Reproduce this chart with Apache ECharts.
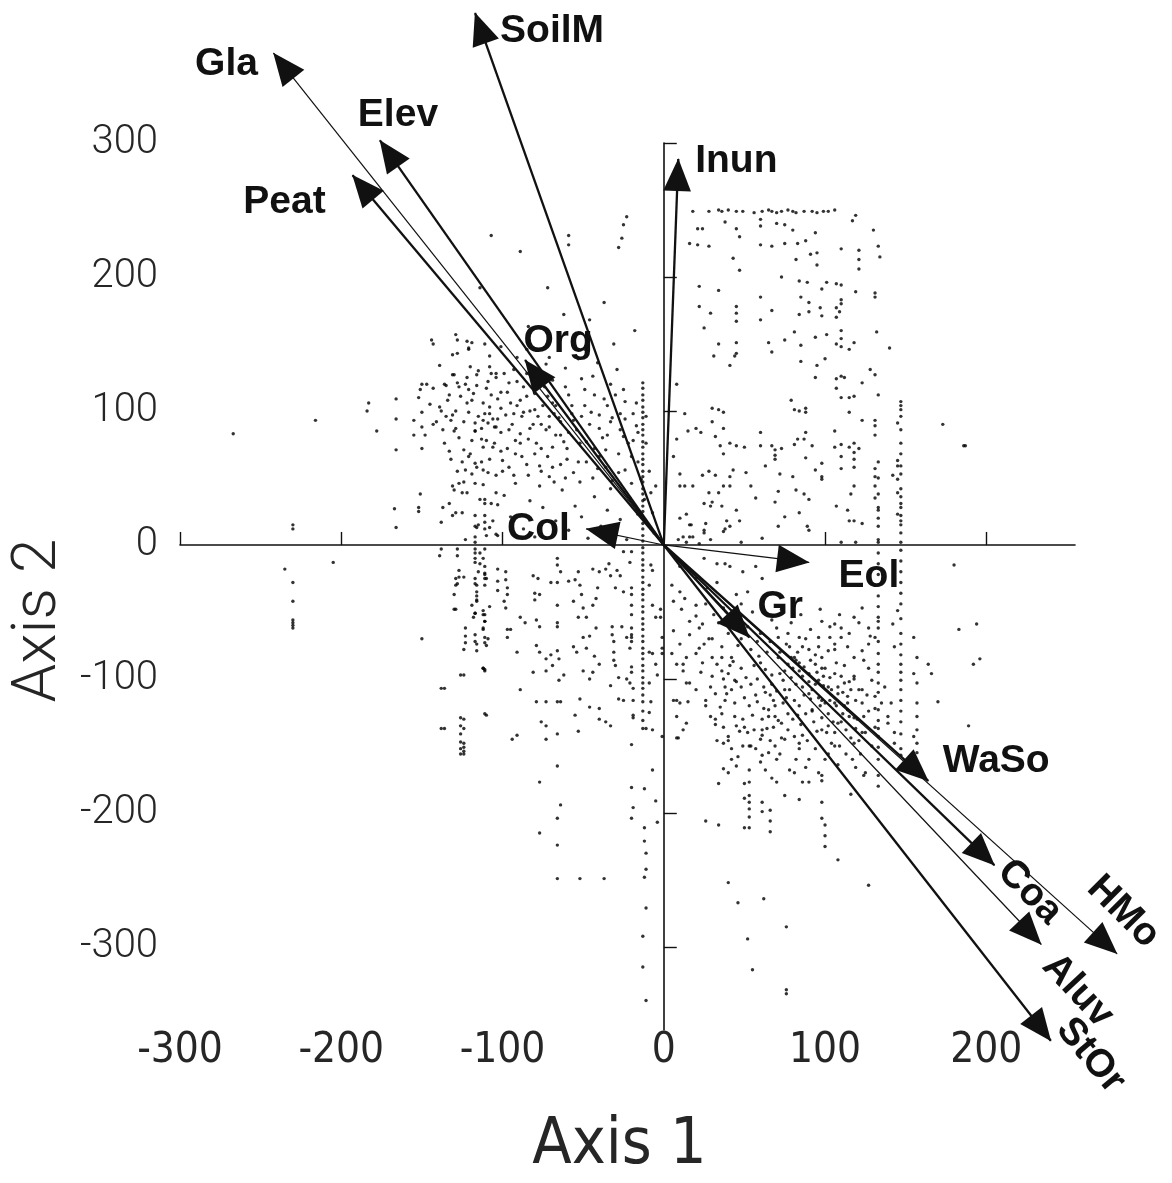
<!DOCTYPE html>
<html>
<head>
<meta charset="utf-8">
<script src="https://cdn.jsdelivr.net/npm/echarts@6/dist/echarts.min.js"></script>
<style>
  html, body { margin: 0; padding: 0; background: #fff; }
  #chart { width: 1172px; height: 1183px; }
</style>
</head>
<body>
<div id="chart"></div>
<script>
// environmental vectors (arrow tips, ordination units)
const variables = ['Gla', 'SoilM', 'Elev', 'Peat', 'Inun', 'Org', 'Col', 'Eol', 'Gr', 'WaSo', 'Coa', 'HMo', 'Aluv', 'StOr']
const axis1 = [-242, -117, -176, -193, 9, -86, -48, 90, 53, 164, 205, 281, 234, 240]
const axis2 = [367, 397, 302, 276, 288, 138, 12, -13, -69, -176, -239, -305, -298, -370]
const heavy = ['SoilM', 'Elev', 'Peat', 'Inun', 'Org', 'Gr', 'WaSo', 'Coa', 'StOr']

// tick labels
const xTicks = [-300, -200, -100, 0, 100, 200]
const yTicks = [-300, -200, -100, 0, 100, 200, 300]

// site scores
const sites = [
  // upper-left cluster
  [-143,117],[-139,103],[-135,96],[-131,127],[-129,87],[-126,111],[-124,71],[-121,99],[-120,133],[-117,85],[-116,119],[-113,62],
  [-112,106],[-109,91],[-108,141],[-105,76],[-104,125],[-101,102],[-100,55],[-97,114],[-96,86],[-93,131],[-92,68],[-89,108],
  [-88,96],[-85,146],[-84,79],[-81,121],[-80,101],[-77,59],[-76,90],[-73,135],[-72,111],[-69,73],[-68,98],[-65,151],
  [-64,82],[-61,118],[-60,64],[-57,104],[-56,93],[-53,139],[-52,47],[-49,116],[-48,77],[-45,99],[-44,126],[-41,57],
  [-40,87],[-37,109],[-36,71],[-33,42],[-32,95],[-29,131],[-28,54],[-25,81],[-24,107],[-21,35],[-20,66],[-17,89],
  [-16,23],[-14,49],[-11,76],[-10,16],[-8,39],[-6,9],
  [-130,41],[-125,24],[-119,53],[-115,15],[-112,45],[-107,31],[-104,8],[-99,37],[-95,21],[-92,46],[-87,12],[-83,33],
  [-80,6],[-75,28],[-71,51],[-67,18],[-63,41],[-59,11],[-55,29],[-51,21],[-47,5],[-43,36],[-39,14],[-35,26],[-31,8],
  [-27,19],[-23,4],
  [-121,116],[-117,91],[-113,79],[-109,122],[-105,88],[-101,114],[-97,72],[-93,98],[-89,83],[-85,111],[-81,90],[-77,118],
  [-73,86],[-69,106],[-65,95],[-119,108],[-111,98],[-103,94],[-95,106],[-87,118],[-79,76],[-71,96],[-127,80],[-133,112],
  [-137,86],[-129,100],[-123,120],[-115,130],[-107,112],[-99,128],[-91,122],[-83,100],[-75,104],[-67,82],[-59,84],[-51,96],
  [-43,72],[-35,82],[-27,98],[-19,78],[-53,62],[-61,50],[-69,58],[-77,44],[-85,60],[-93,52],[-101,70],[-109,54],
  [-117,46],[-125,62],[-133,70],[-141,92],[-145,105],[-148,82],[-150,120],[-139,134],[-131,142],[-121,146],[-111,150],[-101,148],
  [-91,140],[-81,146],[-71,140],[-61,132],[-49,146],[-41,136],[-33,120],[-25,116],[-17,106],[-11,96],
  [-134,108],[-131,97],[-127,118],[-124,92],[-122,106],[-119,78],[-118,113],[-115,96],[-113,87],[-110,117],[-108,103],[-106,94],
  [-103,109],[-101,84],[-98,97],[-96,121],[-94,90],[-91,104],[-89,76],[-87,99],[-85,128],[-83,87],[-80,113],[-78,96],
  [-76,72],[-74,118],[-71,88],[-69,123],[-67,104],[-64,92],[-62,77],[-59,112],[-57,98],[-54,86],[-51,124],[-49,104],
  [-46,90],[-43,112],[-40,97],[-38,80],[-35,104],[-33,92],[-30,112],[-27,86],[-24,94],[-22,76],[-19,98],[-16,84],
  [-136,76],[-132,64],[-128,55],[-124,47],[-120,68],[-116,58],[-112,73],[-108,64],[-104,52],[-100,63],[-96,58],[-92,78],
  [-88,66],[-84,52],[-80,68],[-76,55],[-72,66],[-68,47],[-64,60],[-60,72],[-56,54],[-52,76],[-48,62],[-44,50],
  [-40,66],[-36,58],[-32,48],[-28,68],[-24,56],[-20,46],[-16,62],[-12,34],[-9,55],[-7,24],[-5,44],
  [-143,150],[-128,153],[-122,152],[-119,151],[-128,143],[-121,147],[-151,116],[-152,110],[-147,120],[-150,99],[-155,93],[-155,82],
  [-150,88],[-150,72],[-143,90],[-138,100],[-136,120],[-135,119],[-130,127],[-128,121],[-122,125],[-116,127],[-108,133],[-107,128],
  [-104,128],[-132,93],[-130,85],[-117,85],[-112,93],[-108,98],[-104,88],[-110,78],[-106,73],[-121,66],[-117,61],[-112,56],
  [-123,56],[-131,44],[-127,46],[-125,39],[-129,24],[-131,22],[-137,28],[-133,31],[-138,17],[-151,38],[-152,28],[-152,25],
  [-122,39],[-114,34],[-111,34],[-111,31],[-104,39],[-103,30],[-117,22],[-117,14],[-116,13],[-111,22],[-111,17],[-111,12],
  [-110,7],[-106,18],[-123,4],[-117,6],[-117,2],[-108,13],[-103,7],
  [-144,153],[-129,157],[-107,231],[-89,219],[-59,231],[-59,224],[-25,239],[-26,229],[-28,222],[-114,192],[-72,192],[-23,245],
  [-46,168],[-37,181],[-18,160],[-84,163],[-62,172],[-31,150],
  // far left outliers
  [-267,83],[-230,15],[-230,12],[-230,-28],[-230,-42],[-230,-56],[-230,-58],[-230,-60],[-230,-62],[-235,-18],[-205,-13],
  [-216,93],[-184,100],[-183,106],[-178,85],[-166,109],[-166,94],[-166,71],[-167,27],[-166,13],
  // dense column near the second axis
  [-13,121],[-13,117],[-13,112],[-13,108],[-13,103],[-13,99],[-13,95],[-13,90],[-13,86],[-13,82],[-13,77],[-13,73],
  [-13,68],[-13,64],[-13,60],[-13,55],[-13,51],[-13,47],[-13,42],[-13,38],[-13,33],[-13,29],[-13,25],[-13,20],
  [-13,16],[-13,12],[-13,7],[-13,3],[-13,-2],[-13,-6],[-13,-11],[-13,-15],[-13,-19],[-13,-24],[-13,-28],[-13,-33],
  [-13,-37],[-13,-41],[-13,-46],[-13,-50],[-13,-55],[-13,-59],[-13,-63],[-13,-68],[-13,-72],[-13,-77],[-13,-81],[-13,-85],
  [-13,-90],[-13,-94],[-13,-99],[-13,-103],[-13,-107],[-13,-112],[-13,-117],[-13,-124],[-13,-131],[-13,-137],
  // upper-right block
  [18,249],[28,249],[34,250],[36,249],[40,250],[45,249],[49,249],[56,248],[61,249],[65,250],[67,249],[70,248],
  [73,249],[77,250],[80,249],[82,248],[87,249],[92,249],[95,248],[99,249],[102,249],[106,250],[119,246],[117,242],
  [130,235],[133,223],[134,215],
  [21,236],[24,236],[38,241],[45,236],[47,230],[60,243],[60,238],[70,240],[75,239],[80,235],[94,233],[16,225],
  [21,224],[28,223],[60,224],[67,223],[75,225],[83,225],[88,227],[91,217],[95,218],[95,209],[110,221],[121,220],
  [121,213],[121,206],[43,214],[47,205],[73,200],[82,213],[84,197],[89,196],[101,196],[110,194],[107,195],[22,193],
  [34,190],[60,185],[85,185],[90,181],[98,191],[110,183],[110,180],[119,189],[131,188],[131,185],[22,178],[29,173],
  [45,178],[45,173],[45,167],[60,168],[67,175],[84,172],[90,174],[97,177],[98,171],[107,177],[107,170],[109,174],
  [25,162],[34,150],[45,151],[45,143],[44,141],[31,141],[41,134],[65,151],[67,144],[75,153],[81,159],[85,149],
  [85,137],[94,155],[95,134],[101,157],[100,139],[110,160],[110,154],[107,150],[110,148],[115,146],[118,151],[132,159],
  [140,147],[128,131],[131,127],[94,125],[107,124],[110,126],[112,125],[107,117],[123,121],[133,112],[79,108],[81,101],
  [84,100],[88,102],[88,99],[110,110],[115,110],[118,111],[115,99],[123,93],[131,93],[131,89],[131,82],[147,104],
  [147,101],[145,91],[147,76],[30,102],[34,101],[37,99],[30,92],[8,120],[13,98],[15,85],[20,87],[23,84],
  [32,81],[37,87],[35,74],[37,68],[41,76],[45,74],[50,73],[60,84],[60,74],[67,74],[69,71],[69,67],
  [69,64],[73,72],[81,75],[83,79],[87,79],[88,84],[92,74],[88,65],[106,85],[106,73],[110,75],[110,66],
  [110,57],[115,73],[118,76],[118,69],[118,64],[118,58],[121,72],[131,57],[131,51],[145,63],[145,59],[147,59],
  [142,52],[145,49],[147,42],[145,39],[147,31],[145,23],[147,22],[147,15],[147,9],[131,44],[131,35],[133,28],
  [133,20],[133,2],[118,44],[116,38],[114,26],[115,18],[118,18],[123,16],[107,29],[98,61],[98,51],[98,49],
  [94,56],[80,51],[72,53],[82,41],[87,38],[90,34],[84,24],[89,14],[90,11],[71,40],[75,21],[71,14],
  [69,32],[63,59],[54,44],[57,35],[51,54],[47,18],[39,18],[37,10],[41,14],[45,26],[36,29],[37,44],
  [41,44],[43,56],[41,51],[32,52],[34,39],[30,32],[28,39],[28,55],[24,52],[18,44],[13,44],[10,44],
  [10,53],[6,66],[8,79],[25,31],[29,29],[26,16],[16,15],[17,15],[14,23],[10,20],[9,4],[12,6],
  [16,6],[18,6],[25,11],[25,9],[29,4],[38,12],[61,5],[48,2],[119,2],[110,2],[22,1],[14,2],
  [173,90],[187,74],[186,74],
  // lower-left part
  [-139,-8],[-128,-8],[-117,-10],[-117,-13],[-112,-10],[-129,-25],[-129,-30],[-130,-37],[-130,-48],[-116,-30],[-116,-35],[-116,-42],
  [-117,-51],[-118,-54],[-115,-20],[-111,-21],[-110,-25],[-111,-30],[-111,-52],[-111,-57],[-112,-63],[-111,-69],[-123,-68],[-124,-78],
  [-116,-74],[-116,-79],[-110,-75],[-112,-92],[-111,-94],[-98,-20],[-98,-26],[-97,-32],[-97,-37],[-99,-42],[-98,-47],[-103,-34],
  [-97,-63],[-95,-63],[-97,-69],[-89,-54],[-86,-58],[-91,-80],[-89,-108],[-91,-142],[-94,-145],[-79,-75],[-77,-80],[-73,-85],
  [-73,-94],[-81,-95],[-79,-117],[-73,-117],[-76,-132],[-73,-135],[-73,-145],[-66,-117],[-64,-117],[-66,-141],[-65,-101],[-62,-97],
  [-70,-82],[-66,-79],[-65,-85],[-69,-90],[-66,-45],[-66,-58],[-66,-61],[-79,-56],[-77,-61],[-80,-36],[-77,-37],[-80,-41],
  [-81,-23],[-78,-25],[-70,-28],[-66,-28],[-64,-20],[-66,-10],[-66,-15],[-59,-27],[-55,-26],[-53,-20],[-52,-30],[-51,-37],
  [-56,-42],[-50,-47],[-44,-45],[-42,-40],[-41,-32],[-44,-18],[-40,-20],[-36,-18],[-34,-14],[-53,-54],[-48,-54],[-42,-62],
  [-46,-68],[-50,-69],[-56,-76],[-54,-80],[-48,-77],[-43,-83],[-40,-89],[-44,-95],[-50,-94],[-46,-100],[-52,-115],[-46,-121],
  [-40,-122],[-40,-130],[-36,-132],[-33,-135],[-55,-127],[-53,-139],[-32,-61],[-32,-67],[-31,-72],[-31,-80],[-31,-86],[-30,-90],
  [-26,-61],[-23,-69],[-21,-77],[-28,-99],[-23,-100],[-21,-103],[-19,-107],[-28,-115],[-25,-116],[-19,-116],[-19,-127],[-19,-129],
  [-33,-105],[-27,-23],[-30,-32],[-25,-35],[-20,-32],[-20,-37],[-20,-45],[-20,-52],[-25,-5],[-20,-5],[-21,-13],[-33,-23],
  [-29,-19],[-20,-62],[-20,-67],[-20,-69],[-20,-72],[-20,-91],[-20,-95],[-8,-15],[-7,-19],[-9,-30],[-7,-45],[-5,-54],
  [-2,-48],[-2,-54],[-9,-80],[-7,-81],[-5,-89],[-4,-97],[-9,-103],[-8,-117],[-9,-125],[-7,-138],[-11,-137],[-1,-143],
  [-1,-69],[-1,-77],[-1,-81],
  [-138,-3],[-128,-3],[-117,-3],[-117,-6],[-114,-6],[-111,-3],[-114,-14],[-111,-16],[-111,-22],[-111,-25],[-127,-19],[-127,-24],
  [-124,-24],[-128,-29],[-129,-48],[-117,-25],[-117,-29],[-116,-38],[-116,-41],[-119,-45],[-117,-51],[-112,-49],[-112,-52],[-111,-57],
  [-112,-62],[-108,-46],[-123,-62],[-123,-73],[-117,-67],[-117,-72],[-111,-73],[-109,-70],[-112,-92],[-111,-93],[-124,-97],[-136,-107],
  [-110,-127],[-150,-70],[-136,-137],[-124,-130],[-124,-137],[-124,-148],[-124,-151],[-124,-154],[-124,-156],[-103,-18],[-103,-27],
  [-138,-107],[-138,-137],[-126,-97],[-126,-129],[-126,-135],[-126,-141],[-126,-147],[-126,-152],[-126,-156],[-111,-126],
  [-77,-177],[-66,-165],[-64,-194],[-66,-204],[-77,-215],[-66,-224],[-66,-249],[-52,-249],[-37,-249],[-12,-248],[-12,-211],[-12,-221],
  [-20,-204],[-20,-181],[-20,-149],[-7,-168],[-5,-191],[-13,-315],[-13,-292],[-11,-271],[-11,-230],[-11,-242],[-19,-196],[-4,-207],
  [-12,-182],[-11,-340],
  // lower-right cluster
  [25,-10],[33,-14],[38,-14],[41,-16],[49,-20],[57,-16],[61,-25],[52,-35],[45,-37],[33,-28],[27,-32],[20,-25],
  [10,-16],[5,-30],[6,-42],[11,-48],[20,-53],[24,-59],[16,-67],[6,-64],[10,-74],[5,-81],[12,-89],[20,-81],
  [25,-74],[30,-84],[33,-89],[36,-94],[40,-96],[44,-101],[38,-106],[32,-111],[26,-116],[20,-108],[14,-103],[8,-116],
  [15,-117],[9,-144],[29,-128],[32,-130],[37,-136],[45,-135],[50,-136],[40,-143],[37,-148],[42,-152],[49,-150],[53,-150],
  [60,-145],[61,-138],[61,-130],[65,-123],[69,-128],[73,-133],[77,-138],[81,-143],[84,-148],[75,-145],[69,-150],[65,-155],
  [61,-157],[45,-165],[40,-170],[53,-168],[53,-177],[53,-187],[53,-192],[53,-197],[53,-203],[53,-211],[50,-178],[50,-189],
  [50,-211],[61,-192],[61,-199],[67,-174],[70,-177],[75,-187],[81,-170],[86,-177],[90,-177],[98,-172],[98,-176],[98,-192],
  [98,-204],[26,-206],[34,-209],[37,-167],[34,-178],
  [71,-69],[77,-66],[84,-69],[86,-76],[81,-84],[77,-89],[84,-94],[90,-96],[94,-89],[98,-84],[102,-79],[106,-74],
  [110,-69],[114,-76],[118,-84],[123,-79],[127,-74],[131,-69],[133,-81],[96,-69],[98,-57],[103,-69],[106,-59],[110,-62],
  [118,-54],[123,-47],[127,-62],[133,-57],[142,-59],[145,-49],[147,-66],[143,-76],[147,-89],[155,-69],[157,-84],[164,-89],
  [166,-96],[155,-96],[147,-101],[157,-103],[96,-101],[102,-106],[108,-111],[114,-113],[121,-108],[106,-96],[112,-103],[118,-98],
  [129,-101],[131,-113],[123,-118],[114,-123],[106,-118],[98,-116],[90,-111],[86,-106],[92,-123],[98,-129],[102,-135],[108,-133],
  [118,-129],[125,-140],[133,-143],[139,-133],[143,-148],[147,-152],[155,-143],[157,-118],[157,-128],[157,-138],[157,-148],[157,-155],
  [133,-123],[133,-89],
  [22,-62],[28,-70],[34,-58],[40,-66],[46,-75],[52,-61],[58,-72],[64,-80],[70,-62],[76,-74],[82,-86],[88,-70],
  [94,-82],[100,-92],[106,-78],[112,-90],[118,-100],[124,-86],[24,-88],[30,-98],[36,-84],[42,-108],[48,-92],[54,-104],
  [60,-88],[66,-112],[72,-96],[78,-108],[84,-120],[90,-102],[96,-114],[102,-126],[108,-106],[114,-118],[120,-130],[126,-112],
  [26,-120],[32,-134],[38,-116],[44,-128],[50,-114],[56,-138],[62,-122],[68,-136],[74,-118],[80,-130],[86,-142],[92,-124],
  [98,-138],[104,-148],[110,-132],[116,-144],[122,-156],[40,-146],[46,-158],[54,-150],[60,-162],[66,-146],[72,-156],[78,-168],
  [84,-152],[90,-160],[96,-170],[102,-156],[108,-164],[58,-100],[63,-93],[67,-104],[71,-84],[75,-94],[79,-99],[83,-80],
  [87,-91],[91,-115],[95,-95],[99,-105],[103,-99],[107,-120],[111,-110],[115,-128],[119,-116],[123,-140],[127,-124],[131,-136],
  [135,-118],[139,-128],[143,-140],[37,-100],[41,-90],[45,-102],[49,-130],[53,-120],[57,-112],[61,-142],[65,-128],[69,-120],
  [73,-144],[77,-126],[81,-116],[85,-134],[89,-146],[93,-132],[97,-120],[101,-140],[105,-132],[109,-150],[113,-138],[117,-160],
  [121,-146],[125,-170],[129,-150],
  [26,-44],[31,-52],[37,-47],[43,-55],[48,-44],[55,-50],[61,-42],[67,-56],[73,-48],[79,-58],[85,-52],[91,-63],
  [97,-48],[103,-61],[109,-52],[115,-66],[121,-58],[128,-68],[23,-95],[29,-106],[35,-121],[39,-111],[43,-87],[47,-139],
  [51,-99],[55,-127],[59,-83],[63,-110],[67,-97],[71,-131],[75,-108],[79,-84],[83,-127],[87,-112],[91,-86],[95,-139],
  [99,-98],[103,-116],[107,-88],[111,-126],[115,-102],[119,-137],[123,-108],[127,-92],[131,-122],[137,-106],[141,-118],[56,-90],
  [62,-106],[68,-116],[74,-101],[80,-92],[86,-98],[92,-108],[98,-92],[104,-108],[110,-98],[116,-108],[58,-117],[64,-137],
  [70,-109],[76,-114],[82,-104],[88,-126],[94,-104],[100,-118],[106,-140],[112,-120],[118,-148],[124,-128],[44,-118],[48,-106],
  [52,-140],[36,-126],[33,-146],[42,-160],[57,-152],[63,-168],[70,-160],[82,-160],[88,-166],[94,-152],[100,-160],[106,-150],
  [113,-156],[119,-166],[30,-70],[36,-76],[42,-84],[48,-70],[54,-78],[60,-66],[66,-72],[72,-80],[78,-76],[84,-88],
  [90,-78],[96,-76],
  [10,-35],[13,-40],[20,-45],[16,-57],[22,-77],[14,-84],[8,-89],[12,-94],[16,-103],[6,-116],[10,-118],[8,-128],
  [14,-133],[12,-138],[8,-144],
  [133,62],[133,50],[133,38],[133,26],[133,14],[133,4],[133,-6],[133,-14],[133,-22],[133,-30],[133,-38],[133,-46],
  [133,-54],[133,-62],[133,-72],[133,-95],[133,-103],[133,-110],[133,-131],[133,-137],[133,-151],[133,-160],[133,-172],[133,-180],
  [147,107],[147,96],[147,86],[147,68],[147,53],[147,36],[147,28],[147,18],[147,2],[147,-4],[147,-12],[147,-20],
  [147,-28],[147,-36],[147,-44],[147,-55],[147,-74],[147,-82],[147,-95],[147,-108],[147,-116],[147,-124],[147,-132],[147,-141],
  [147,-157],
  [180,-15],[194,-59],[196,-85],[192,-89],[183,-63],[170,-117],[189,-135],
  [76,-285],[52,-294],[55,-317],[76,-332],[76,-335],[127,-254],[108,-235],[100,-209],[100,-217],[100,-225],[40,-252],[46,-267],
  [62,-264],[66,-198],[66,-206],[66,-214],[84,-190],[116,-186],[124,-172]
]

// label placement: pixels from the arrow tip (in the label's own rotated frame), rotation in degrees
const labelOffset = {
  Gla: [-47, 11], SoilM: [77, 18], Elev: [18, -25], Peat: [-68, 27], Inun: [58, 2], Org: [33, -19], Col: [-48, 0],
  Eol: [60, 14], Gr: [31, -30], WaSo: [68, -20], Coa: [44, -6], HMo: [-25, -34], Aluv: [59, 5], StOr: [37, -21]
}
const labelRotate = { Coa: -45, HMo: -45, Aluv: -47, StOr: -50 }

const ink = '#111'
// triangle head whose tip sits on the symbol centre (padded box)
const arrowHead = 'path://M-30,-30L-30,-30M30,30L30,30M0,0L13,31L-13,31Z'

const chart = echarts.init(document.getElementById('chart'))

const vectorData = (isHeavy) =>
  variables
    .map((name, i) => ({ name, coords: [[0, 0], [axis1[i], axis2[i]]] }))
    .filter(d => heavy.includes(d.name) === isHeavy)

const narrow = "'Liberation Sans Narrow', 'DejaVu Sans Condensed', 'Roboto Condensed', 'Arial Narrow', sans-serif"

const option = {
  animation: false,
  backgroundColor: '#fff',
  grid: { left: 177, top: 143, width: 898, height: 896 },
  xAxis: [
    {
      type: 'value', min: -300, max: 255, position: 'bottom',
      axisLine: { onZero: true, lineStyle: { color: ink, width: 1.6 } },
      axisTick: { inside: true, length: 13, lineStyle: { color: ink, width: 1.4 }, customValues: xTicks.filter(v => v !== 0) },
      axisLabel: { show: false },
      splitLine: { show: false }
    },
    {
      type: 'value', min: -300, max: 255, position: 'bottom', offset: 0,
      axisLine: { show: false, onZero: false },
      axisTick: { show: false },
      splitLine: { show: false },
      axisLabel: {
        customValues: xTicks, margin: 0, fontSize: 42, lineHeight: 42,
        fontFamily: narrow, color: '#262626'
      },
      name: 'Axis 1', nameLocation: 'middle', nameGap: 84, nameMoveOverlap: false,
      nameTextStyle: { fontSize: 64, color: '#262626', padding: [0, 16, 0, 0], fontFamily: narrow }
    }
  ],
  yAxis: [
    {
      type: 'value', min: -362, max: 300, position: 'left',
      axisLine: { onZero: true, lineStyle: { color: ink, width: 1.6 } },
      axisTick: { inside: true, length: 13, lineStyle: { color: ink, width: 1.4 }, customValues: yTicks.filter(v => v !== 0) },
      axisLabel: { show: false },
      splitLine: { show: false }
    },
    {
      type: 'value', min: -362, max: 300, position: 'left',
      axisLine: { show: false, onZero: false },
      axisTick: { show: false },
      splitLine: { show: false },
      axisLabel: {
        customValues: yTicks, margin: 22, fontSize: 40, padding: [0, 0, 10, 0],
        fontFamily: 'Roboto, "Liberation Sans", sans-serif', fontWeight: 300, color: '#262626'
      },
      name: 'Axis 2', nameLocation: 'middle', nameGap: 110, nameRotate: 90, nameMoveOverlap: false,
      nameTextStyle: {
        fontSize: 62, color: '#262626', padding: [0, 68, 0, 0],
        fontFamily: 'Roboto, "Liberation Sans", sans-serif', fontWeight: 300
      }
    }
  ],
  series: [
    {
      type: 'scatter', name: 'sites', data: sites, symbolSize: 3.4, silent: true,
      itemStyle: { color: '#000' }, z: 2
    },
    {
      type: 'lines', coordinateSystem: 'cartesian2d', data: vectorData(true), clip: false, silent: true,
      symbol: ['none', arrowHead], symbolSize: 64,
      lineStyle: { color: ink, width: 2.3, opacity: 1 }, z: 3
    },
    {
      type: 'lines', coordinateSystem: 'cartesian2d', data: vectorData(false), clip: false, silent: true,
      symbol: ['none', arrowHead], symbolSize: 64,
      lineStyle: { color: ink, width: 1.2, opacity: 1 }, z: 3
    },
    {
      type: 'scatter', name: 'labels', clip: false, silent: true, symbolSize: 1,
      itemStyle: { color: ink },
      data: variables.map((name, i) => ({
        name,
        value: [axis1[i], axis2[i]],
        label: { offset: labelOffset[name], rotate: labelRotate[name] || 0 }
      })),
      label: {
        show: true, position: 'inside', formatter: '{b}',
        fontSize: 39, fontWeight: 'bold', color: ink, opacity: 1,
        textBorderWidth: 0, textBorderColor: 'transparent',
        fontFamily: '"Liberation Sans", Arial, sans-serif'
      },
      z: 5
    }
  ]
}

chart.setOption(option)
</script>
</body>
</html>
